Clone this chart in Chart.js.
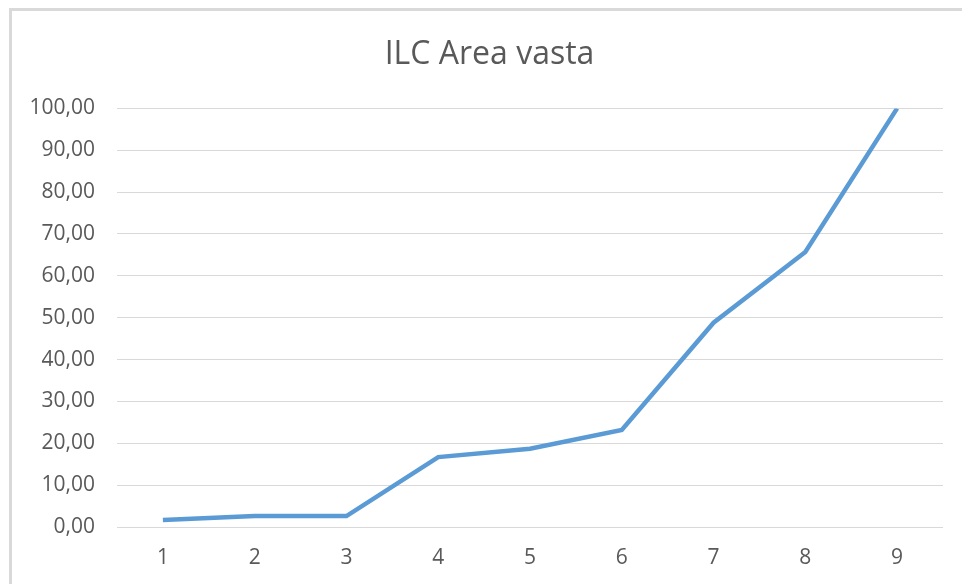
<!DOCTYPE html>
<html>
<head>
<meta charset="utf-8">
<script src="https://cdn.jsdelivr.net/npm/chart.js@4"></script>
<style>
  html, body { margin: 0; padding: 0; background: #fff; overflow: hidden; }
  #frame {
    position: absolute; left: 9px; top: 8px; width: 980px; height: 600px;
    border-left: 3px solid #d9d9d9; border-top: 3px solid #d9d9d9;
  }
  #ilcChart { position: absolute; left: 0; top: 0; }
</style>
</head>
<body>
<div id="frame"></div>
<canvas id="ilcChart" width="962" height="584"></canvas>
<script>
// ILC values per step
const categories = ['1', '2', '3', '4', '5', '6', '7', '8', '9'];
const ilcValues = [1.7, 2.6, 2.6, 16.7, 18.7, 23.2, 48.8, 65.7, 100.0];
const yTicks = [0, 10, 20, 30, 40, 50, 60, 70, 80, 90, 100];

const textColor = '#595959';
const fontFamily = '"Open Sans", "Noto Sans", sans-serif';

// nudge the title box so it is centred on the whole frame, not the padded area
const titleShift = {
    id: 'titleShift',
    afterLayout(chart) {
        if (chart.titleBlock) {
            chart.titleBlock.left += 9;
            chart.titleBlock.right += 9;
        }
    }
};

const ctx = document.getElementById('ilcChart').getContext('2d');
new Chart(ctx, {
    type: 'line',
    data: {
        labels: categories,
        datasets: [{
            label: 'ILC',
            data: ilcValues,
            borderColor: '#5b9bd5',
            borderWidth: 4.5,
            pointRadius: 0,
            tension: 0,
            fill: false
        }]
    },
    options: {
        responsive: false,
        animation: false,
        layout: {
            padding: { left: 18, right: 19, top: 0, bottom: 0 }
        },
        plugins: {
            legend: { display: false },
            tooltip: { enabled: false },
            title: {
                display: true,
                text: 'ILC Area vasta',
                color: textColor,
                font: { family: fontFamily, size: 32, weight: 'normal' },
                padding: { top: 36, bottom: 34 }
            }
        },
        scales: {
            x: {
                offset: true,
                grid: { display: false, drawTicks: false },
                border: { display: false },
                ticks: {
                    color: textColor,
                    font: { family: fontFamily, size: 21 },
                    padding: 18
                },
                afterFit: (scale) => { scale.height = 57; }
            },
            y: {
                min: 0,
                max: 100,
                afterBuildTicks: (scale) => {
                    scale.ticks = yTicks.map(v => ({ value: v }));
                },
                grid: { color: '#d9d9d9', lineWidth: 1, drawTicks: false },
                border: { display: false },
                ticks: {
                    color: textColor,
                    font: { family: fontFamily, size: 21 },
                    padding: 22,
                    callback: (value) => value.toFixed(2).replace('.', ',')
                },
                afterFit: (scale) => { scale.width = 99; }
            }
        }
    },
    plugins: [titleShift]
});
</script>
</body>
</html>
